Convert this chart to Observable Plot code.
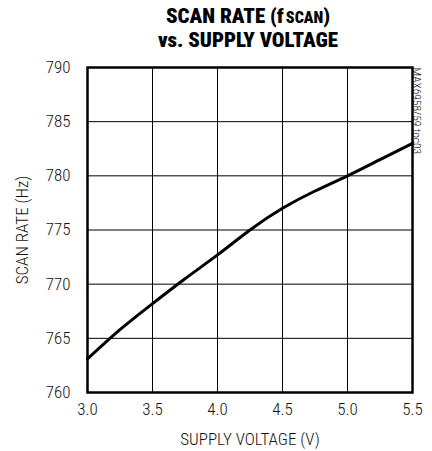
<!DOCTYPE html>
<html><head><meta charset="utf-8">
<script src="https://cdn.jsdelivr.net/npm/d3@7"></script>
<script src="https://cdn.jsdelivr.net/npm/@observablehq/plot@0.6"></script>
<style>
body{margin:0;background:#fff;}
#title{width:432px;height:55px;box-sizing:border-box;padding-left:64px;padding-top:5px;text-align:center;font-family:"Roboto Condensed","Open Sans",sans-serif;font-stretch:condensed;font-weight:900;font-size:21px;line-height:23px;color:#000;}
#title .sub{font-size:16px;margin-left:2px;}
</style>
</head><body>
<div id="title"><div>SCAN RATE (f<span class="sub">SCAN</span>)</div><div>vs. SUPPLY VOLTAGE</div></div>
<div id="chart"></div>
<script>
const voltage = [3.0, 3.25, 3.5, 3.75, 4.0, 4.25, 4.5, 4.75, 5.0, 5.25, 5.5];
const scanRate = [763.1, 765.8, 768.2, 770.5, 772.7, 775.0, 777.0, 778.6, 780.0, 781.5, 783.0];
const xTicks = [3.0, 3.5, 4.0, 4.5, 5.0, 5.5];
const yTicks = [760, 765, 770, 775, 780, 785, 790];
const data = voltage.map((v, i) => ({v, f: scanRate[i]}));

const font = '"Roboto Condensed","Open Sans",sans-serif';
const chart = Plot.plot({
  width: 432,
  height: 396,
  marginTop: 12,
  marginBottom: 59,
  marginLeft: 87,
  marginRight: 20,
  style: {fontFamily: font, fontSize: "17px", fontWeight: 300, color: "#000", background: "#fff"},
  x: {domain: [3.0, 5.5], ticks: xTicks, tickFormat: d3.format(".1f")},
  y: {domain: [760, 790], ticks: yTicks},
  marks: [
    Plot.gridX(xTicks, {stroke: "#000", strokeOpacity: 1, strokeWidth: 1}),
    Plot.gridY(yTicks, {stroke: "#000", strokeOpacity: 1, strokeWidth: 1}),
    Plot.axisX(xTicks, {tickSize: 0, tickPadding: 10, tickFormat: d3.format(".1f"), label: "SUPPLY VOLTAGE (V)", labelAnchor: "center", labelArrow: "none", labelOffset: 52, fontSize: 17, fill: "#111"}),
    Plot.axisY(yTicks, {tickSize: 0, tickPadding: 17, label: "SCAN RATE (Hz)", labelAnchor: "center", labelArrow: "none", labelOffset: 72, fontSize: 17, fill: "#111"}),
    Plot.line(data, {x: "v", y: "f", curve: "natural", stroke: "#000", strokeWidth: 3}),
    Plot.frame({stroke: "#000", strokeWidth: 2.5}),
    Plot.text(["MAX6958/59 toc03"], {frameAnchor: "top-right", rotate: 90, textAnchor: "start", dx: 9, fontSize: 11.5, fill: "#111"})
  ]
});
document.getElementById("chart").appendChild(chart);
</script>
</body></html>
